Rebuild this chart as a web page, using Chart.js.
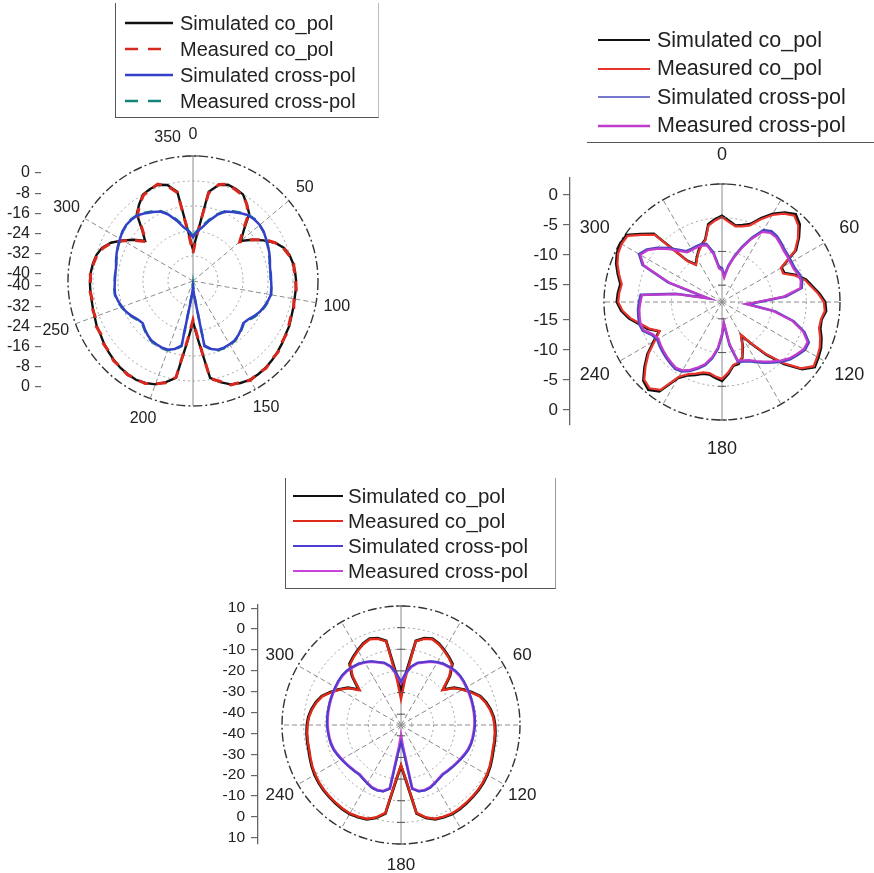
<!DOCTYPE html>
<html>
<head>
<meta charset="utf-8">
<script src="https://cdn.jsdelivr.net/npm/chart.js@4.4.1/dist/chart.umd.min.js"></script>
<style>
  body { margin: 0; background: #fff; width: 874px; height: 873px; position: relative; overflow: hidden;
         font-family: "Liberation Sans", Arial, sans-serif; }
  canvas { position: absolute; }
  .legend { position: absolute; box-sizing: border-box; color: #222; z-index: 2; }
  .legend .row { display: flex; align-items: center; white-space: nowrap; }
  .legend svg { flex: none; }
</style>
</head>
<body>
<canvas id="p1side"></canvas>
<canvas id="p1"></canvas>
<canvas id="p2side"></canvas>
<canvas id="p2"></canvas>
<canvas id="p3side"></canvas>
<canvas id="p3"></canvas>
<script>
// angle categories (degrees), 5 degree steps
const angles = [0,5,10,15,20,25,30,35,40,45,50,55,60,65,70,75,80,85,90,95,100,105,110,115,
  120,125,130,135,140,145,150,155,160,165,170,175,180,185,190,195,200,205,210,215,220,225,230,235,
  240,245,250,255,260,265,270,275,280,285,290,295,300,305,310,315,320,325,330,335,340,345,350,355];

const seriesNames = ['Simulated co_pol', 'Measured co_pol', 'Simulated cross-pol', 'Measured cross-pol'];

// ---- panel 1 (top left) ----
const p1AngleLabels = [0, 50, 100, 150, 200, 250, 300, 350];
const p1Rings = [-40, -32, -24, -16, -8, 0];
const p1SideTicks = [0, -8, -16, -24, -32, -40];
const p1SimCo = [-30,-25,-11,-8.2,-7.2,-7.5,-8,-10,-12,-17,-20,-17,-14,-11,-9,-8,-7.5,-7.2,-7,-7,-7,-6.8,-6.5,-6,
  -5.8,-5.2,-4.7,-4.2,-3.8,-3.6,-3.5,-4,-4.8,-6.5,-8.5,-21,-27,-21,-8.5,-6.5,-4.8,-4,-3.5,-3.6,-3.8,-4.2,-4.7,-5.2,
  -5.8,-6,-6.5,-6.8,-7,-7,-7,-7.2,-7.5,-8,-9,-11,-14,-17,-20,-17,-12,-10,-8,-7.5,-7.2,-8.2,-11,-25];
const p1MeasCo = [-31,-25,-11.5,-8,-7,-7.8,-8.3,-10,-12.5,-17.5,-20.5,-17,-13.5,-11,-9.2,-8.2,-7.3,-7.4,-7.2,-6.8,-7.2,-6.6,-6.7,-6.2,
  -5.6,-5.4,-4.5,-4.4,-3.6,-3.8,-3.3,-4.2,-4.6,-6.8,-8.2,-21.5,-27.5,-21.5,-8.7,-6.3,-5,-3.8,-3.7,-3.4,-4,-4,-4.9,-5,
  -6,-5.8,-6.7,-6.6,-7.2,-6.8,-7.2,-7,-7.7,-8.2,-9.3,-11.2,-14.3,-17.4,-20.4,-17.3,-12.4,-10.2,-8.3,-7.7,-7,-8.5,-11.3,-25.5];
const p1SimCross = [-26,-24,-22.5,-20,-17.5,-15.5,-14.5,-13.5,-12.5,-12.2,-12.1,-12.4,-13,-13.5,-14,-14.5,-15,-15,-15,-14.8,-14.7,-15.2,-15.8,-16.5,
  -17.5,-18.5,-19,-18.2,-17.4,-16.8,-16.6,-16.5,-16.6,-17.5,-19,-35,-38,-35,-19,-17.5,-16.6,-16.5,-16.6,-16.8,-17.4,-18.2,-19,-18.5,
  -17.5,-16.5,-15.8,-15.2,-14.7,-14.8,-15,-15,-15,-14.5,-14,-13.5,-13,-12.4,-12.1,-12.2,-12.5,-13.5,-14.5,-15.5,-17.5,-20,-22.5,-24];
const p1MeasCross = [-25.5,-23.8,-22,-19.6,-17.2,-15.3,-14.2,-13.3,-12.4,-12,-12.2,-12.5,-13.2,-13.6,-14.2,-14.6,-15.2,-15.1,-15.2,-14.9,-14.6,-15,-15.6,-16.3,
  -17.2,-18.2,-18.8,-18,-17.2,-16.6,-16.4,-16.3,-16.4,-17.3,-18.8,-35.5,-39,-35.5,-18.8,-17.3,-16.4,-16.3,-16.4,-16.6,-17.2,-18,-18.8,-18.3,
  -17.3,-16.4,-15.6,-15,-14.6,-14.7,-14.9,-15,-15.1,-14.6,-14.2,-13.6,-13.2,-12.5,-12.2,-12,-12.4,-13.3,-14.2,-15.3,-17.2,-19.6,-22,-23.8];

// ---- panel 2 (top right) ----
const p2AngleLabels = [0, 60, 120, 180, 240, 300];
const p2Rings = [-17.5, -15, -10, -5, 0];
const p2SideTicks = [0, -5, -10, -15];
const p2SimCo = [-4.7,-5.4,-6,-5.7,-5.2,-3.8,-2.4,-1.3,-0.5,-1.2,-2.6,-4.1,-7.3,-7.3,-5.8,-4.6,-3.9,-3,-2.2,-2,-2.5,-2.4,-1.8,-1.3,
  -1,-0.7,-2,-4.5,-7.3,-10,-11.8,-10.2,-8.7,-8,-7.9,-6.8,-5.8,-6.2,-6.6,-6.5,-6,-5.5,-4.5,-1.3,-0.5,-1,-2.5,-4,
  -5.8,-7.2,-5.8,-4.8,-3.5,-2.5,-1.9,-2,-2.2,-1.5,-0.8,-0.3,-0.1,-0.2,-1.8,-3.2,-9.5,-10.7,-10,-9.2,-8.5,-7.9,-5.8,-5.2];
const p2MeasCo = [-4.9,-5.6,-6.1,-5.9,-5.4,-4,-2.6,-1.5,-0.8,-1.5,-2.8,-4.3,-7.4,-7.5,-6,-4.8,-4.1,-3.2,-2.4,-2.2,-2.6,-2.6,-2,-1.5,
  -1.2,-0.9,-2.2,-4.7,-7.5,-10.1,-11.9,-10.3,-8.8,-8.2,-8,-7,-6.1,-6.4,-6.8,-6.7,-6.2,-5.7,-4.7,-1.6,-0.8,-1.2,-2.7,-4.2,
  -6,-7.3,-6,-5,-3.7,-2.7,-2.1,-2.2,-2.4,-1.7,-1,-0.5,-0.3,-0.4,-2,-3.4,-9.6,-10.8,-10.1,-9.3,-8.6,-8,-6,-5.4];
const p2SimCross = [-12.5,-13.6,-12,-10.5,-8.8,-7,-5.2,-4.7,-4.8,-5.1,-5.4,-5.5,-5.6,-5.6,-5.3,-5.2,-5.5,-8,-12,-13.6,-9.5,-6.5,-4.5,-3.3,
  -3.3,-3.8,-4.3,-5,-5.8,-6.5,-7.2,-7.8,-8.1,-8.3,-11,-14.2,-12.5,-10.5,-9,-7.8,-7,-6.2,-5.6,-5.4,-5.6,-5.8,-6,-6.2,
  -6.4,-6,-5,-4.8,-4.9,-5,-5.2,-5.4,-10.5,-15.2,-9,-4.5,-3.3,-3.9,-5,-6.2,-7.4,-8.3,-8.4,-8.4,-8.4,-8.6,-10,-12.2];
const p2MeasCross = [-12.8,-13.9,-12.2,-10.7,-9,-7.2,-5.5,-5,-5,-5.3,-5.6,-5.7,-5.8,-5.8,-5.5,-5.4,-5.7,-8.3,-12.3,-14,-9.8,-6.7,-4.7,-3.5,
  -3.5,-4,-4.5,-5.2,-6,-6.7,-7.4,-8,-8.3,-8.5,-11.3,-14.5,-12.8,-10.7,-9.2,-8,-7.2,-6.4,-5.8,-5.6,-5.8,-6,-6.2,-6.4,
  -6.6,-6.2,-5.2,-5,-5.1,-5.2,-5.4,-5.6,-10.8,-15.5,-9.3,-4.7,-3.5,-4.1,-5.2,-6.4,-7.6,-8.5,-8.6,-8.6,-8.6,-8.8,-10.3,-12.5];

// ---- panel 3 (bottom) ----
const p3AngleLabels = [60, 120, 180, 240, 300];
const p3Rings = [-45, -40, -30, -20, -10, 0, 10];
const p3SideTicks = [10, 0, -10, -20, -30, -40];
const p3SimCo = [-29,-22,-5.5,-3.5,-2.5,-3.5,-5,-6.5,-8,-13,-19.5,-15,-12,-9,-6,-4.3,-3,-2,-1.5,-1.2,-1,-0.8,-0.2,0.5,
  1.1,1.5,1.8,2,2.2,2.4,2.5,2,1.4,-0.5,-3.5,-19.5,-26,-19.5,-3.5,-0.5,1.4,2,2.5,2.4,2.2,2,1.8,1.5,
  1.1,0.5,-0.2,-0.8,-1,-1.2,-1.5,-2,-3,-4.3,-6,-9,-12,-15,-19.5,-13,-8,-6.5,-5,-3.5,-2.5,-3.5,-5.5,-22];
const p3MeasCo = [-33,-24,-5.8,-3.8,-2.8,-3.8,-5.3,-6.8,-8.4,-13.5,-20,-15.3,-12.3,-9.3,-6.3,-4.6,-3.3,-2.3,-1.8,-1.5,-1.3,-1.1,-0.5,0.2,
  0.8,1.2,1.5,1.7,1.9,2.1,2.2,1.7,1.1,-0.8,-3.8,-20,-26.5,-20,-3.8,-0.8,1.1,1.7,2.2,2.1,1.9,1.7,1.5,1.2,
  0.8,0.2,-0.5,-1.1,-1.3,-1.5,-1.8,-2.3,-3.3,-4.6,-6.3,-9.3,-12.3,-15.3,-20,-13.5,-8.4,-6.8,-5.3,-3.8,-2.8,-3.8,-5.8,-24];
const p3SimCross = [-25,-21,-17.5,-15.2,-14,-12.5,-11.4,-10.5,-10,-9.5,-9.4,-9.6,-9.9,-10.1,-10.3,-10.5,-10.6,-10.7,-10.8,-11,-11.2,-11.4,-11.8,-12.5,
  -13.2,-13.8,-14.3,-14.7,-15,-14.5,-13.8,-13,-12.8,-13.2,-15,-33,-37,-33,-15,-13.2,-12.8,-13,-13.8,-14.5,-15,-14.7,-14.3,-13.8,
  -13.2,-12.5,-11.8,-11.4,-11.2,-11,-10.8,-10.7,-10.6,-10.5,-10.3,-10.1,-9.9,-9.6,-9.4,-9.5,-10,-10.5,-11.4,-12.5,-14,-15.2,-17.5,-21];
const p3MeasCross = [-25.5,-21.3,-17.7,-15.4,-14.2,-12.7,-11.6,-10.7,-10.2,-9.7,-9.6,-9.8,-10.1,-10.3,-10.5,-10.7,-10.8,-10.9,-11,-11.2,-11.4,-11.6,-12,-12.7,
  -13.4,-14,-14.5,-14.9,-15.2,-14.7,-14,-13.2,-13,-13.4,-15.3,-35,-40,-35,-15.3,-13.4,-13,-13.2,-14,-14.7,-15.2,-14.9,-14.5,-14,
  -13.4,-12.7,-12,-11.6,-11.4,-11.2,-11,-10.9,-10.8,-10.7,-10.5,-10.3,-10.1,-9.8,-9.6,-9.7,-10.2,-10.7,-11.6,-12.7,-14.2,-15.4,-17.7,-21.3];

const FONT = '"Liberation Sans", Arial, sans-serif';
Chart.defaults.font.family = FONT;
const PAD = 45;

// draws angle labels, the end caps of the 0-180 axis and small ring ticks on it
function polarDecor(cfg) {
  return {
    id: 'polarDecor',
    afterDraw(chart) {
      const s = chart.scales.r, ctx = chart.ctx;
      ctx.save();
      ctx.font = cfg.labelSize + 'px ' + FONT;
      ctx.fillStyle = '#222';
      ctx.textAlign = 'center';
      ctx.textBaseline = 'middle';
      cfg.angleLabels.forEach(a => {
        const p = s.getPointPosition(angles.indexOf(a), s.drawingArea + cfg.labelOffset);
        ctx.fillText(String(a), p.x, p.y);
      });
      ctx.strokeStyle = '#555';
      ctx.lineWidth = 1.3;
      ctx.setLineDash([]);
      cfg.caps.forEach(a => {
        const p = s.getPointPosition(angles.indexOf(a), s.drawingArea);
        ctx.beginPath();
        ctx.moveTo(p.x - cfg.capWidth / 2, p.y);
        ctx.lineTo(p.x + cfg.capWidth / 2, p.y);
        ctx.stroke();
      });
      if (cfg.ringTicks) {
        ctx.lineWidth = 1;
        cfg.rings.slice(1, -1).forEach(v => {
          const d = s.getDistanceFromCenterForValue(v);
          [0, 180].forEach(a => {
            const p = s.getPointPosition(angles.indexOf(a), d);
            ctx.beginPath();
            ctx.moveTo(p.x - 4, p.y);
            ctx.lineTo(p.x + 4, p.y);
            ctx.stroke();
          });
        });
      }
      ctx.restore();
    }
  };
}

function radar(id, cfg) {
  const el = document.getElementById(id);
  const size = 2 * cfg.R + 2 * PAD;
  el.width = size; el.height = size;
  el.style.left = (cfg.cx - size / 2) + 'px';
  el.style.top = (cfg.cy - size / 2) + 'px';
  const last = cfg.rings.length - 1;
  new Chart(el, {
    type: 'radar',
    data: {
      labels: angles,
      datasets: cfg.series.map(s => ({
        label: s.name, data: s.data, borderColor: s.color, borderWidth: s.width,
        borderDash: s.dash || [], pointRadius: 0, pointHitRadius: 0, fill: false, tension: 0
      }))
    },
    options: {
      responsive: false,
      animation: false,
      layout: { padding: PAD },
      plugins: { legend: { display: false }, tooltip: { enabled: false } },
      scales: {
        r: {
          min: cfg.rings[0],
          max: cfg.rings[last],
          afterBuildTicks: s => { s.ticks = cfg.rings.map(v => ({ value: v })); },
          ticks: { display: false },
          pointLabels: { display: false },
          grid: {
            circular: true,
            color: c => c.index === last ? '#333' : '#a0a0a0',
            lineWidth: c => c.index === last ? 1.4 : 1
          },
          border: { dash: c => c.index === last ? [9, 3, 2, 3] : [2, 3] },
          angleLines: {
            color: '#8c8c8c',
            lineWidth: c => cfg.spokes.includes(angles[c.index]) ? 1 : 0,
            borderDash: c => angles[c.index] % 180 === 0 ? [] : [5, 3]
          }
        }
      }
    },
    plugins: [polarDecor(cfg)]
  });
}

// mirrored radial axis drawn beside each plot
function sideAxis(id, cfg) {
  const el = document.getElementById(id);
  const hi = cfg.ticks[0], lo = cfg.ticks[cfg.ticks.length - 1];
  const span = hi - lo;
  const pos = cfg.ticks.map(v => hi - v)
    .concat(cfg.ticks.slice().reverse().map(v => span + cfg.gap + (v - lo)));
  const labels = cfg.ticks.concat(cfg.ticks.slice().reverse()).map(String);
  const min = -cfg.extraTop, max = 2 * span + cfg.gap + cfg.extraBottom;
  const m = 12; // room for the end labels
  el.width = cfg.axisWidth + 10;
  el.height = Math.round((max - min) * cfg.k) + 2 * m;
  el.style.left = (cfg.axisX - cfg.axisWidth) + 'px';
  el.style.top = Math.round(cfg.topY - cfg.extraTop * cfg.k - m) + 'px';
  new Chart(el, {
    type: 'scatter',
    data: { datasets: [] },
    options: {
      responsive: false,
      animation: false,
      layout: { padding: { top: m, bottom: m, left: 0, right: 0 } },
      plugins: { legend: { display: false }, tooltip: { enabled: false } },
      scales: {
        x: { display: false },
        y: {
          reverse: true, min: min, max: max,
          afterBuildTicks: a => { a.ticks = pos.map(v => ({ value: v })); },
          afterFit: a => { a.width = cfg.axisWidth; a.paddingTop = 0; a.paddingBottom = 0; },
          ticks: { autoSkip: false, callback: (v, i) => labels[i], color: '#222',
                   font: { size: cfg.fontSize }, padding: cfg.pad },
          grid: { drawOnChartArea: false, drawTicks: true, tickLength: cfg.tickLength,
                  color: '#666', lineWidth: 1.2 },
          border: { display: cfg.line, color: '#666', width: 1.3 }
        }
      }
    }
  });
}

function legend(cfg) {
  const box = document.createElement('div');
  box.className = 'legend';
  Object.assign(box.style, cfg.box);
  seriesNames.forEach((name, i) => {
    const st = cfg.styles[i];
    const row = document.createElement('div');
    row.className = 'row';
    row.style.height = cfg.rowHeight + 'px';
    row.style.fontSize = cfg.fontSize + 'px';
    row.innerHTML =
      '<svg width="' + (cfg.lineX + cfg.lineLen + cfg.gap) + '" height="12"><line x1="' + cfg.lineX + '" y1="6" x2="' +
      (cfg.lineX + cfg.lineLen) + '" y2="6" stroke="' + st.color + '" stroke-width="' + st.width +
      '" stroke-dasharray="' + (st.legendDash || '') + '"/></svg><span>' + name + '</span>';
    box.appendChild(row);
  });
  document.body.appendChild(box);
}

// panel 1
const p1Colors = ['#111111', '#d8281e', '#3340c8', '#14857a'];
radar('p1', {
  cx: 193, cy: 281, R: 125, rings: p1Rings, spokes: [0, 50, 100, 150, 180, 200, 250, 300],
  angleLabels: p1AngleLabels, labelSize: 16, labelOffset: 21, caps: [0], capWidth: 15, ringTicks: false,
  series: [
    { name: seriesNames[2], data: p1SimCross, color: p1Colors[2], width: 2.5 },
    { name: seriesNames[3], data: p1MeasCross, color: p1Colors[3], width: 2.5, dash: [9, 7] },
    { name: seriesNames[1], data: p1MeasCo, color: p1Colors[1], width: 3, dash: [10, 8] },
    { name: seriesNames[0], data: p1SimCo, color: p1Colors[0], width: 2.4 }
  ]
});
sideAxis('p1side', { ticks: p1SideTicks, gap: 4.8, k: 2.524, topY: 173, extraTop: 2, extraBottom: 2,
  axisX: 41, axisWidth: 41, tickLength: 6, pad: 5, fontSize: 16, line: false });
legend({
  box: { left: '115px', top: '3px', width: '264px', height: '115px', paddingTop: '7px',
         borderLeft: '1.5px solid #555', borderBottom: '1.5px solid #555', borderRight: '1px solid #bbb' },
  rowHeight: 26, fontSize: 20, lineX: 9, lineLen: 48, gap: 7,
  styles: [
    { color: p1Colors[0], width: 2.5 },
    { color: p1Colors[1], width: 2.5, legendDash: '13 10 13 100' },
    { color: p1Colors[2], width: 2.5 },
    { color: p1Colors[3], width: 2.5, legendDash: '13 10 13 100' }
  ]
});

// panel 2
const p2Colors = ['#111111', '#e8342c', '#4a48c0', '#c03ccc'];
radar('p2', {
  cx: 722, cy: 302, R: 118, rings: p2Rings, spokes: [0, 30, 60, 90, 120, 150, 180, 210, 240, 270, 300, 330],
  angleLabels: p2AngleLabels, labelSize: 18, labelOffset: 29, caps: [0, 180], capWidth: 10, ringTicks: true,
  series: [
    { name: seriesNames[3], data: p2MeasCross, color: p2Colors[3], width: 2.2 },
    { name: seriesNames[2], data: p2SimCross, color: p2Colors[2], width: 2.6 },
    { name: seriesNames[1], data: p2MeasCo, color: p2Colors[1], width: 2.2 },
    { name: seriesNames[0], data: p2SimCo, color: p2Colors[0], width: 2.6 }
  ]
});
sideAxis('p2side', { ticks: p2SideTicks, gap: 5.83, k: 6, topY: 195, extraTop: 2.8, extraBottom: 2.5,
  axisX: 570, axisWidth: 45, tickLength: 7, pad: 5, fontSize: 17, line: true });
legend({
  box: { left: '587px', top: '12px', width: '287px', height: '131px', paddingTop: '14px',
         borderBottom: '1.5px solid #555' },
  rowHeight: 28.5, fontSize: 21.5, lineX: 11, lineLen: 52, gap: 7,
  styles: [
    { color: p2Colors[0], width: 2.2 },
    { color: p2Colors[1], width: 2 },
    { color: p2Colors[2], width: 1.6 },
    { color: p2Colors[3], width: 2.4 }
  ]
});

// panel 3
const p3Colors = ['#111111', '#e02a18', '#4c3fd0', '#c844d8'];
radar('p3', {
  cx: 401, cy: 725, R: 119, rings: p3Rings, spokes: [0, 30, 60, 90, 120, 150, 180, 210, 240, 270, 300, 330],
  angleLabels: p3AngleLabels, labelSize: 17, labelOffset: 21, caps: [0, 180], capWidth: 10, ringTicks: true,
  series: [
    { name: seriesNames[2], data: p3SimCross, color: p3Colors[2], width: 2.2 },
    { name: seriesNames[3], data: p3MeasCross, color: p3Colors[3], width: 2.8 },
    { name: seriesNames[1], data: p3MeasCo, color: p3Colors[1], width: 2.4 },
    { name: seriesNames[0], data: p3SimCo, color: p3Colors[0], width: 2.8 }
  ]
});
sideAxis('p3side', { ticks: p3SideTicks, gap: 10, k: 2.09, topY: 608, extraTop: 1.5, extraBottom: 3,
  axisX: 258, axisWidth: 45, tickLength: 7, pad: 6, fontSize: 15.5, line: true });
legend({
  box: { left: '285px', top: '478px', width: '271px', height: '111px', paddingTop: '5px',
         borderLeft: '1.5px solid #555', borderBottom: '1.5px solid #555', borderRight: '1px solid #999' },
  rowHeight: 25, fontSize: 20.5, lineX: 7, lineLen: 50, gap: 5,
  styles: [
    { color: p3Colors[0], width: 2 },
    { color: p3Colors[1], width: 2 },
    { color: p3Colors[2], width: 2 },
    { color: p3Colors[3], width: 2 }
  ]
});
</script>
</body>
</html>
